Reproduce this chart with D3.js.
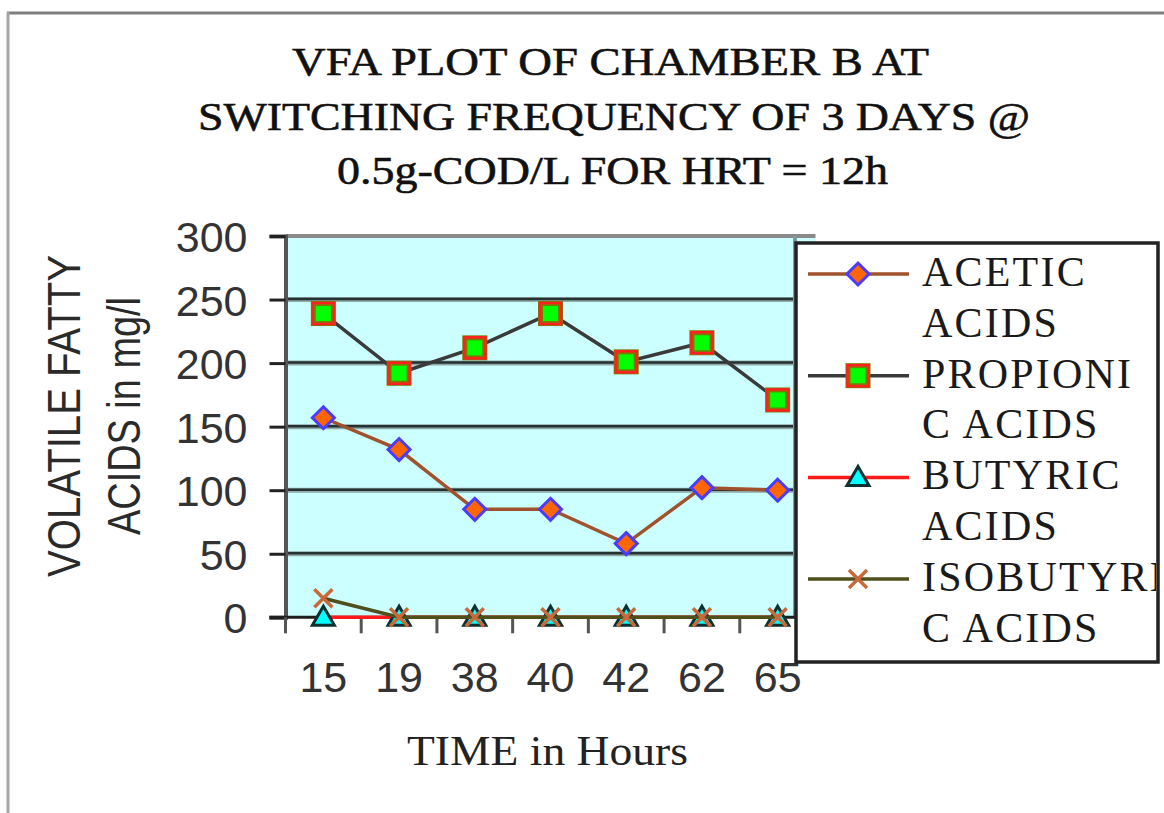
<!DOCTYPE html>
<html>
<head>
<meta charset="utf-8">
<script src="https://cdn.jsdelivr.net/npm/d3@7"></script>
<style>
  html, body { margin: 0; padding: 0; background: #ffffff; }
  svg { display: block; }
</style>
</head>
<body>
<svg id="chart" width="1164" height="813"></svg>
<script>
// ---- Data ----
const categories = ["15", "19", "38", "40", "42", "62", "65"];
const aceticAcids = [157, 132, 85, 85, 58, 102, 100];
const propionicAcids = [239, 192, 212, 239, 201, 216, 171];
const butyricAcids = [0, 0, 0, 0, 0, 0, 0];
const isobutyricAcids = [15, 0, 0, 0, 0, 0, 0];
const yTickValues = [0, 50, 100, 150, 200, 250, 300];
const legendLabels = [["ACETIC", "ACIDS"], ["PROPIONI", "C ACIDS"], ["BUTYRIC", "ACIDS"], ["ISOBUTYRI", "C ACIDS"]];
const titleLines = ["VFA PLOT OF CHAMBER B AT", "SWITCHING FREQUENCY OF 3 DAYS @", "0.5g-COD/L FOR HRT = 12h"];
const yTitleLines = ["VOLATILE FATTY", "ACIDS in mg/l"];
const xTitle = "TIME in Hours";

// ---- Layout ----
const svg = d3.select("#chart");
const plot = { left: 285.5, right: 815.5, top: 236, bottom: 617.3 };
const x = d3.scaleBand().domain(categories).range([plot.left, plot.right]);
const y = d3.scaleLinear().domain([0, 300]).range([plot.bottom, plot.top]);
const cx = c => x(c) + x.bandwidth() / 2;

// Outer chart border (top & left visible)
svg.append("line").attr("x1", 7).attr("x2", 1164).attr("y1", 13).attr("y2", 13)
  .attr("stroke", "#7f7f7f").attr("stroke-width", 3);
svg.append("line").attr("x1", 8).attr("x2", 8).attr("y1", 12).attr("y2", 813)
  .attr("stroke", "#a6a6a6").attr("stroke-width", 3);

// Title
const titleX = [292, 198, 337];
const titleW = [637, 832, 551];
const titleBase = [75, 130, 184];
titleLines.forEach((t, i) => {
  svg.append("text").text(t)
    .attr("x", titleX[i]).attr("y", titleBase[i])
    .attr("textLength", titleW[i]).attr("lengthAdjust", "spacingAndGlyphs")
    .attr("font-family", "Liberation Serif, serif").attr("font-size", 41)
    .attr("stroke", "#111").attr("stroke-width", 0.6)
    .attr("fill", "#111");
});

// Plot background
svg.append("rect").attr("x", plot.left).attr("y", plot.top)
  .attr("width", plot.right - plot.left).attr("height", plot.bottom - plot.top)
  .attr("fill", "#ccffff");

// Gridlines
const gridVals = yTickValues.filter(v => v > 0 && v < 300);
svg.append("g").selectAll("line").data(gridVals).join("line")
  .attr("x1", plot.left).attr("x2", plot.right)
  .attr("y1", d => y(d)).attr("y2", d => y(d))
  .attr("stroke", "#8fa8a8").attr("stroke-width", 5);
svg.append("g").selectAll("line").data(gridVals).join("line")
  .attr("x1", plot.left).attr("x2", plot.right)
  .attr("y1", d => y(d) - 0.5).attr("y2", d => y(d) - 0.5)
  .attr("stroke", "#243232").attr("stroke-width", 2.5);

// Plot border top/right (gray)
svg.append("line").attr("x1", plot.left).attr("x2", plot.right).attr("y1", plot.top).attr("y2", plot.top)
  .attr("stroke", "#8a8a8a").attr("stroke-width", 4);
svg.append("line").attr("x1", 795).attr("x2", 795).attr("y1", plot.top).attr("y2", plot.bottom)
  .attr("stroke", "#7f9a9a").attr("stroke-width", 4);

// Y axis
const yAxis = svg.append("g").attr("transform", `translate(${plot.left},0)`)
  .call(d3.axisLeft(y).tickValues(yTickValues).tickSize(16).tickPadding(22));
yAxis.select(".domain").attr("stroke", "#555").attr("stroke-width", 4);
yAxis.selectAll(".tick line").attr("stroke", "#222").attr("stroke-width", 3);
yAxis.selectAll(".tick text")
  .attr("font-family", "Liberation Sans, Arial, sans-serif").attr("font-size", 43)
  .attr("fill", "#333").attr("dy", "0.36em");

// X axis (labels at band centres, ticks at band boundaries)
const xAxis = svg.append("g").attr("transform", `translate(0,${plot.bottom})`)
  .call(d3.axisBottom(x).tickSize(0).tickPadding(0));
xAxis.select(".domain").remove();
xAxis.selectAll(".tick text")
  .attr("font-family", "Liberation Sans, Arial, sans-serif").attr("font-size", 43)
  .attr("fill", "#333").attr("y", 75).attr("dy", 0);
svg.append("line").attr("x1", plot.left - 16).attr("x2", plot.right).attr("y1", plot.bottom).attr("y2", plot.bottom)
  .attr("stroke", "#1e1e1e").attr("stroke-width", 3);
const boundaries = categories.map(c => x(c)).concat([plot.right]);
svg.append("g").selectAll("line").data(boundaries).join("line")
  .attr("x1", d => d).attr("x2", d => d)
  .attr("y1", plot.bottom).attr("y2", plot.bottom + 16)
  .attr("stroke", "#555").attr("stroke-width", 3);

// Axis titles
yTitleLines.forEach((t, i) => {
  const bx = [80, 140][i], by = [577, 535][i], len = [322, 238][i];
  svg.append("text").text(t)
    .attr("transform", `translate(${bx},${by}) rotate(-90)`)
    .attr("textLength", len).attr("lengthAdjust", "spacingAndGlyphs")
    .attr("font-family", "Liberation Sans, Arial, sans-serif").attr("font-size", 46)
    .attr("fill", "#2a2a2a");
});
svg.append("text").text(xTitle)
  .attr("x", 407).attr("y", 765)
  .attr("textLength", 281).attr("lengthAdjust", "spacingAndGlyphs")
  .attr("font-family", "Liberation Serif, serif").attr("font-size", 42)
  .attr("fill", "#222");

// ---- Series ----
const series = [
  { values: aceticAcids, line: "#a0522d", marker: "diamond", fill: "#ff6600", stroke: "#4a3cff" },
  { values: propionicAcids, line: "#3a3a3a", marker: "square", fill: "#00ff00", stroke: "#ff2020" },
  { values: butyricAcids, line: "#ff1a1a", marker: "triangle", fill: "#00ffff", stroke: "#0d3030" },
  { values: isobutyricAcids, line: "#4f4f1c", marker: "x", fill: "none", stroke: "#c8693c" }
];

function drawMarker(g, type, px, py, s) {
  if (type === "diamond") {
    g.append("path").attr("d", `M${px},${py - 11}L${px + 11},${py}L${px},${py + 11}L${px - 11},${py}Z`)
      .attr("fill", s.fill).attr("stroke", s.stroke).attr("stroke-width", 3);
  } else if (type === "square") {
    g.append("rect").attr("x", px - 10).attr("y", py - 10).attr("width", 20).attr("height", 20)
      .attr("fill", "#00ff00").attr("stroke", "#7a7a00").attr("stroke-width", 5);
    g.append("rect").attr("x", px - 10.5).attr("y", py - 10.5).attr("width", 21).attr("height", 21)
      .attr("fill", "none").attr("stroke", s.stroke).attr("stroke-width", 2.5);
  } else if (type === "triangle") {
    g.append("path").attr("d", `M${px},${py - 11}L${px + 11},${py + 8}L${px - 11},${py + 8}Z`)
      .attr("fill", s.fill).attr("stroke", s.stroke).attr("stroke-width", 3);
  } else if (type === "x") {
    g.append("path").attr("d", `M${px - 9},${py - 9}L${px + 9},${py + 9}M${px + 9},${py - 9}L${px - 9},${py + 9}`)
      .attr("stroke", s.stroke).attr("stroke-width", 3.5).attr("fill", "none");
  }
}

const lineGen = d3.line().x((d, i) => cx(categories[i])).y(d => y(d));
series.forEach(s => {
  const g = svg.append("g");
  g.append("path").datum(s.values).attr("d", lineGen)
    .attr("fill", "none").attr("stroke", s.line).attr("stroke-width", 3.5);
  s.values.forEach((v, i) => drawMarker(g, s.marker, cx(categories[i]), y(v), s));
});

// ---- Legend ----
const lg = { x: 796, y: 243, w: 362, h: 419 };
svg.append("defs").append("clipPath").attr("id", "legClip")
  .append("rect").attr("x", lg.x).attr("y", lg.y).attr("width", lg.w - 2).attr("height", lg.h);
svg.append("rect").attr("x", lg.x).attr("y", lg.y).attr("width", lg.w).attr("height", lg.h)
  .attr("fill", "#ffffff").attr("stroke", "#222").attr("stroke-width", 3.5);
const legG = svg.append("g").attr("clip-path", "url(#legClip)");
series.forEach((s, i) => {
  const my = 274 + i * 101.7;
  legG.append("line").attr("x1", 808).attr("x2", 909).attr("y1", my).attr("y2", my)
    .attr("stroke", s.line).attr("stroke-width", 3.5);
  drawMarker(legG, s.marker, 858, my, s);
  legendLabels[i].forEach((t, j) => {
    legG.append("text").text(t)
      .attr("x", 922).attr("y", 286 + i * 101.7 + j * 50.7)
      .attr("font-family", "Liberation Serif, serif").attr("font-size", 42)
      .attr("letter-spacing", 2.2).attr("fill", "#1a1a1a");
  });
});
</script>
</body>
</html>
